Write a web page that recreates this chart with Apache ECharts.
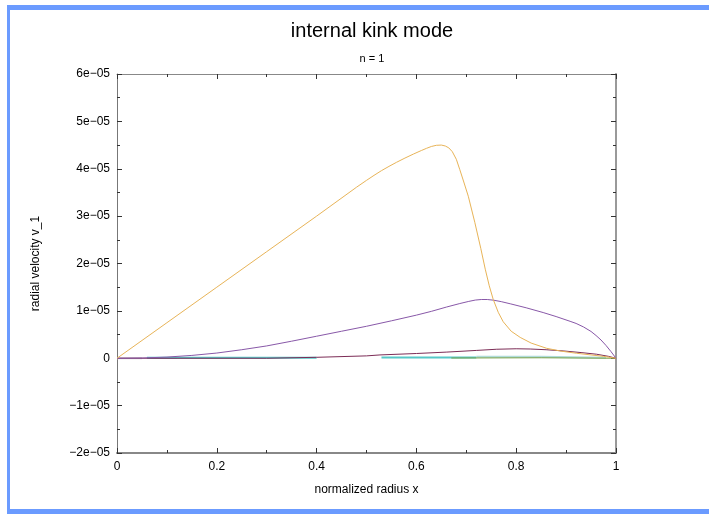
<!DOCTYPE html>
<html>
<head>
<meta charset="utf-8">
<script src="https://cdn.jsdelivr.net/npm/echarts@6/dist/echarts.min.js"></script>
<style>
html,body{margin:0;padding:0;background:#fff;}
#c{width:709px;height:514px;}
</style>
</head>
<body>
<div id="c"></div>
<script>
// ---- data (values in units of 1e-05) ----
var xTicks = [0, 0.2, 0.4, 0.6, 0.8, 1];
var yTicks = [-2, -1, 0, 1, 2, 3, 4, 5, 6];

var xOrange = [0, 0.1, 0.2, 0.3, 0.4, 0.48, 0.5, 0.515, 0.53, 0.545, 0.56, 0.577, 0.594, 0.61, 0.62, 0.63, 0.64, 0.65, 0.658, 0.665, 0.672, 0.68, 0.687, 0.695, 0.704, 0.717, 0.729, 0.738, 0.746, 0.754, 0.764, 0.774, 0.79, 0.808, 0.83, 0.861, 0.89, 0.921, 0.95, 0.975, 1];
var vOrange = [0, 0.75, 1.5, 2.25, 3.0, 3.61, 3.755, 3.86, 3.96, 4.05, 4.135, 4.225, 4.31, 4.385, 4.43, 4.47, 4.495, 4.50, 4.48, 4.44, 4.36, 4.20, 3.98, 3.72, 3.42, 2.87, 2.32, 1.88, 1.53, 1.24, 0.97, 0.77, 0.57, 0.44, 0.32, 0.21, 0.15, 0.105, 0.07, 0.04, 0];

var xPurple = [0, 0.05, 0.1, 0.15, 0.2, 0.25, 0.3, 0.35, 0.4, 0.45, 0.5, 0.55, 0.6, 0.63, 0.66, 0.687, 0.705, 0.718, 0.73, 0.742, 0.755, 0.77, 0.788, 0.82, 0.854, 0.88, 0.908, 0.92, 0.935, 0.95, 0.96, 0.97, 0.98, 0.99, 1];
var vPurple = [0, 0.005, 0.025, 0.06, 0.11, 0.18, 0.26, 0.36, 0.465, 0.57, 0.675, 0.79, 0.91, 0.99, 1.08, 1.155, 1.2, 1.228, 1.24, 1.24, 1.225, 1.195, 1.15, 1.065, 0.965, 0.88, 0.78, 0.735, 0.66, 0.565, 0.48, 0.385, 0.27, 0.14, 0];

var xMaroon = [0, 0.3, 0.4, 0.5, 0.527, 0.6, 0.661, 0.72, 0.761, 0.8, 0.828, 0.86, 0.894, 0.93, 0.961, 0.985, 1];
var vMaroon = [0, 0, 0.02, 0.05, 0.07, 0.10, 0.13, 0.165, 0.19, 0.2, 0.195, 0.18, 0.155, 0.12, 0.085, 0.04, 0];

var xGrey = [0, 0.05];
var vGrey = [0, 0];
var xCyan = [0.06, 0.4, 0.4, 0.53, 0.72];
var vCyan = [0.01, 0.01, null, 0.015, 0.015];
var xTeal = [0.72, 0.85, 0.98];
var vTeal = [0.03, 0.03, 0.01];
var xGreen = [0.67, 0.85, 1];
var vGreen = [0.005, 0.01, 0];
var xBlue = [0.06, 0.12, 0.4, 0.53];
var vBlue = [0.005, 0.005, null, 0.005];

function pairs(xs, vs) {
  return xs.map(function (x, i) { return [x, vs[i] === null ? null : vs[i] * 1e-5]; });
}

function fmtY(v) {
  var n = Math.round(v * 1e5);
  if (n === 0) return '0';
  return (n < 0 ? '\u2212' : '') + Math.abs(n) + 'e\u221205';
}

var font = '"Liberation Sans", Arial, sans-serif';
var chart = echarts.init(document.getElementById('c'), null, {renderer: 'canvas'});

function lineSeries(name, xs, vs, color, w) {
  return {
    name: name, type: 'line', data: pairs(xs, vs), showSymbol: false, symbol: 'none',
    smooth: false, connectNulls: false,
    lineStyle: {color: color, width: w || 1}, z: 3, animation: false
  };
}

var tickStyle = {color: '#333', width: 1};
var baseAxisX = {
  type: 'value', min: xTicks[0], max: xTicks[xTicks.length - 1], interval: 0.2,
  splitLine: {show: false},
  axisTick: {show: true, inside: true, length: 5, lineStyle: tickStyle},
  minorTick: {show: true, splitNumber: 2, length: 3, lineStyle: tickStyle}
};
var baseAxisY = {
  type: 'value', min: yTicks[0] * 1e-5, max: yTicks[yTicks.length - 1] * 1e-5, interval: 1e-5,
  splitLine: {show: false},
  axisTick: {show: true, inside: true, length: 5, lineStyle: tickStyle},
  minorTick: {show: true, splitNumber: 2, length: 3, lineStyle: tickStyle}
};

var option = {
  backgroundColor: '#ffffff',
  animation: false,
  title: [
    {text: 'internal kink mode', left: 367, top: 16, textAlign: 'center',
     textStyle: {fontFamily: font, fontSize: 20, fontWeight: 'normal', color: '#000'}},
    {text: 'n = 1', left: 367, top: 48, textAlign: 'center',
     textStyle: {fontFamily: font, fontSize: 11, fontWeight: 'normal', color: '#000'}}
  ],
  grid: {left: 117, right: 93, top: 74, bottom: 61, containLabel: false},
  xAxis: [
    Object.assign({}, baseAxisX, {
      position: 'bottom',
      name: 'normalized radius x', nameLocation: 'middle', nameGap: 31,
      nameTextStyle: {fontFamily: font, fontSize: 12, color: '#000'},
      axisLine: {show: true, onZero: false, lineStyle: {color: '#888', width: 2}},
      axisLabel: {show: true, margin: 8, fontFamily: font, fontSize: 12, color: '#000',
        formatter: function (v) { return String(Math.round(v * 10) / 10); }}
    }),
    Object.assign({}, baseAxisX, {
      position: 'top',
      axisLine: {show: true, onZero: false, lineStyle: {color: '#888', width: 1}},
      axisLabel: {show: false}
    })
  ],
  yAxis: [
    Object.assign({}, baseAxisY, {
      position: 'left',
      name: 'radial velocity v_1', nameLocation: 'middle', nameGap: 75,
      nameTextStyle: {fontFamily: font, fontSize: 12, color: '#000'},
      axisLine: {show: true, onZero: false, lineStyle: {color: '#777', width: 1}},
      axisLabel: {show: true, margin: 7, fontFamily: font, fontSize: 12, color: '#000', formatter: fmtY}
    }),
    Object.assign({}, baseAxisY, {
      position: 'right',
      axisLine: {show: true, onZero: false, lineStyle: {color: '#999', width: 2}},
      axisLabel: {show: false}
    })
  ],
  series: [
    lineSeries('grey', xGrey, vGrey, '#d4d4d4', 2),
    lineSeries('blue', xBlue, vBlue, '#5a6ea8', 1),
    lineSeries('cyan', xCyan, vCyan, '#56c8c8', 2),
    lineSeries('teal', xTeal, vTeal, '#b0dcd8', 2),
    lineSeries('green', xGreen, vGreen, '#78a048', 1),
    lineSeries('maroon', xMaroon, vMaroon, '#7c2c56', 1),
    lineSeries('purple', xPurple, vPurple, '#8858a8', 1),
    lineSeries('orange', xOrange, vOrange, '#e8b458', 1)
  ],
  graphic: [
    {type: 'rect', shape: {x: 7, y: 5, width: 702, height: 5}, style: {fill: '#6b9bff'}, silent: true},
    {type: 'rect', shape: {x: 7, y: 5, width: 3, height: 509}, style: {fill: '#6b9bff'}, silent: true},
    {type: 'rect', shape: {x: 7, y: 509, width: 702, height: 5}, style: {fill: '#6b9bff'}, silent: true}
  ]
};
chart.setOption(option);
</script>
</body>
</html>
